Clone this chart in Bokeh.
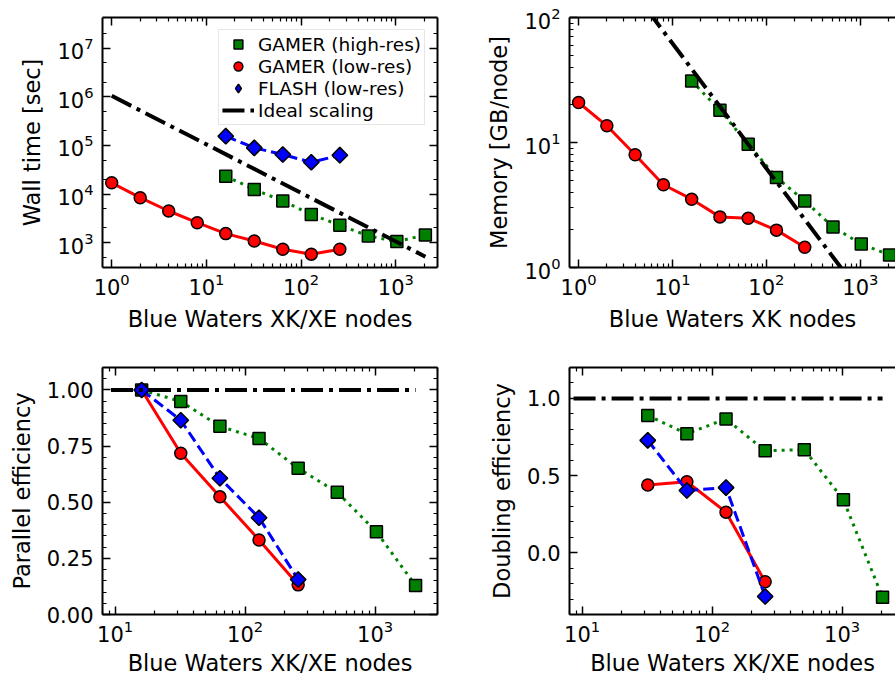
import numpy as np
from bokeh.plotting import figure
from bokeh.layouts import column, row
from bokeh.models import (LogAxis, LinearAxis, FixedTicker, CustomJSTickFormatter,
                          PrintfTickFormatter, Legend, LegendItem, Range1d)
from bokeh.embed import file_html
from bokeh.resources import INLINE

FONT = "DejaVu Sans"

# ---------------- data ----------------
nodes_hi = [16, 32, 64, 128, 256, 512, 1024, 2048]
nodes_lo = [1, 2, 4, 8, 16, 32, 64, 128, 256]
nodes_flash = [16, 32, 64, 128, 256]

wall_hi = [2.33e4, 1.24e4, 7.2e3, 3.8e3, 2.27e3, 1.37e3, 1.05e3, 1.44e3]
wall_lo = [1.70e4, 8.4e3, 4.47e3, 2.57e3, 1.53e3, 1.08e3, 731, 578, 731]
wall_flash = [1.55e5, 8.9e4, 6.5e4, 4.5e4, 6.3e4]
wall_ideal_x = [1, 2048]
wall_ideal_y = [1.05e6, 513]

mem_lo = [20.9, 13.6, 7.97, 4.59, 3.52, 2.54, 2.48, 1.99, 1.45]
mem_hi = [31.1, 18.1, 9.7, 5.25, 3.41, 2.11, 1.54, 1.26]
mem_ideal_x = [1, 2048]
mem_ideal_y = [620, 0.303]

par_nodes_hi = [16, 32, 64, 128, 256, 512, 1024, 2048]
par_hi = [1.0, 0.949, 0.838, 0.784, 0.651, 0.544, 0.368, 0.129]
par_nodes_lo = [16, 32, 64, 128, 256]
par_lo = [1.0, 0.718, 0.524, 0.332, 0.132]
par_flash = [1.0, 0.865, 0.607, 0.431, 0.156]
par_ideal_x = [9.3, 2048]
par_ideal_y = [1.0, 1.0]

dbl_nodes_hi = [32, 64, 128, 256, 512, 1024, 2048]
dbl_hi = [0.889, 0.771, 0.867, 0.660, 0.668, 0.343, -0.289]
dbl_nodes_lo = [32, 64, 128, 256]
dbl_lo = [0.439, 0.460, 0.263, -0.188]
dbl_flash = [0.728, 0.403, 0.422, -0.283]
dbl_ideal_x = [8.6, 2048]
dbl_ideal_y = [1.0, 1.0]

labels = ["GAMER (high-res)", "GAMER (low-res)", "FLASH (low-res)", "Ideal scaling"]

x_ticks_top = [1, 10, 100, 1000]
x_ticks_bot = [10, 100, 1000]
x_minor = [m * 10.0 ** k for k in range(0, 4) for m in range(2, 10)]
wall_ticks = [1e3, 1e4, 1e5, 1e6, 1e7]
wall_minor = [m * 10.0 ** k for k in range(2, 8) for m in (2, 5)]
mem_ticks = [1, 10, 100]
mem_minor = [m * 10.0 ** k for k in range(0, 2) for m in range(2, 10)]
par_ticks = [0.0, 0.25, 0.5, 0.75, 1.0]
par_minor = [i * 0.05 for i in range(0, 23)]
dbl_ticks = [0.0, 0.5, 1.0]
dbl_minor = [-0.4 + i * 0.1 for i in range(0, 17)]

GREEN, RED, BLUE = "#008000", "#ff0000", "#0000ff"


def style_axis(ax, show_labels=True):
    ax.major_tick_in = 8
    ax.major_tick_out = 0
    ax.minor_tick_in = 4
    ax.minor_tick_out = 0
    ax.major_tick_line_width = 1.5
    ax.minor_tick_line_width = 1.2
    ax.major_tick_line_color = "black"
    ax.minor_tick_line_color = "black"
    ax.axis_line_width = 2
    ax.axis_line_color = "black"
    ax.major_label_text_font = FONT
    ax.major_label_text_color = "black"
    ax.axis_label_text_font = FONT
    ax.axis_label_text_font_size = "22.5px"
    ax.axis_label_text_font_style = "normal"
    ax.axis_label_text_color = "black"
    if show_labels:
        ax.major_label_text_font_size = "21px"
    else:
        ax.major_label_text_font_size = "0px"
        ax.major_label_standoff = 0


def make_fig(w, h, xr, yr, ylog, xt, xm, yt, ym, yfmt, borders, right_axis,
             xlabel, ylabel, xl_standoff):
    p = figure(width=w, height=h, x_axis_type="log",
               y_axis_type="log" if ylog else "linear",
               x_range=Range1d(*xr), y_range=Range1d(*yr),
               output_backend="svg", toolbar_location=None,
               min_border_left=borders[0], min_border_right=borders[1],
               min_border_top=borders[2], min_border_bottom=borders[3])
    p.grid.visible = False
    p.outline_line_color = None
    p.background_fill_color = "white"
    p.border_fill_color = "white"

    xa = p.xaxis[0]
    xa.ticker = FixedTicker(ticks=xt, minor_ticks=xm)
    style_axis(xa)
    xa.major_label_standoff = 5
    xa.axis_label = xlabel
    xa.axis_label_standoff = xl_standoff

    ya = p.yaxis[0]
    ya.ticker = FixedTicker(ticks=yt, minor_ticks=ym)
    if yfmt is not None:
        ya.formatter = PrintfTickFormatter(format=yfmt)
    style_axis(ya)
    ya.major_label_standoff = 9
    ya.axis_label = ylabel
    ya.axis_label_standoff = 9

    top = LogAxis(ticker=FixedTicker(ticks=xt, minor_ticks=xm),
                  formatter=CustomJSTickFormatter(code="return ''"))
    style_axis(top, False)
    p.add_layout(top, "above")
    if right_axis:
        AxisCls = LogAxis if ylog else LinearAxis
        ra = AxisCls(ticker=FixedTicker(ticks=yt, minor_ticks=ym),
                     formatter=CustomJSTickFormatter(code="return ''"))
        style_axis(ra, False)
        p.add_layout(ra, "right")
    return p


def add_series(p, x, y, color, marker, dash, size, angle=0.0, key_marker=None):
    if dash == "solid":
        p.line(x, y, line_color=color, line_width=3)
    else:
        p.line(x, y, line_color=color, line_width=3, line_dash=dash)
    key = None
    if key_marker is not None:
        # legend key glyph, hidden underneath the real markers
        key = p.scatter(x, y, marker=key_marker, size=size, fill_color=color,
                        line_color="black", line_width=1.5)
    r = p.scatter(x, y, marker=marker, size=size, angle=angle,
                  fill_color=color, line_color="black", line_width=1.5)
    return key if key is not None else r


def add_ideal(p, x, y):
    return p.line(x, y, line_color="black", line_width=4, line_dash="22 6 4 6")


# ---------------- top-left: wall time ----------------
p1 = make_fig(470, 340, (0.8, 2750), (307, 4.3e7), True,
              x_ticks_top, x_minor, wall_ticks, wall_minor, None,
              (102, 33, 16, 73), True, "Blue Waters XK/XE nodes", "Wall time [sec]", 8)
s_hi = add_series(p1, nodes_hi, wall_hi, GREEN, "square", "3 5", 12)
s_lo = add_series(p1, nodes_lo, wall_lo, RED, "circle", "solid", 12)
s_fl = add_series(p1, nodes_flash, wall_flash, BLUE, "square", "11 5", 11, np.pi / 4,
                  key_marker="diamond")
l_id = add_ideal(p1, wall_ideal_x, wall_ideal_y)

legend = Legend(items=[LegendItem(label=labels[0], renderers=[s_hi]),
                       LegendItem(label=labels[1], renderers=[s_lo]),
                       LegendItem(label=labels[2], renderers=[s_fl]),
                       LegendItem(label=labels[3], renderers=[l_id])],
                location="top_right", margin=12, padding=3, spacing=0,
                glyph_height=22, glyph_width=32, label_height=20, label_standoff=4,
                label_text_font=FONT, label_text_font_size="18.5px",
                label_text_color="black",
                border_line_color="#cccccc", border_line_width=1.5,
                background_fill_alpha=0.8)
p1.add_layout(legend)

# ---------------- top-right: memory ----------------
p2 = make_fig(425, 340, (0.8, 2370), (1, 100), True,
              x_ticks_top, x_minor, mem_ticks, mem_minor, None,
              (99, 0, 17, 73), False, "Blue Waters XK nodes", "Memory [GB/node]", 8)
add_series(p2, nodes_hi, mem_hi, GREEN, "square", "3 5", 12)
add_series(p2, nodes_lo, mem_lo, RED, "circle", "solid", 12)
add_ideal(p2, mem_ideal_x, mem_ideal_y)

# ---------------- bottom-left: parallel efficiency ----------------
p3 = make_fig(470, 338, (8, 3020), (0, 1.1), False,
              x_ticks_bot, x_minor, par_ticks, par_minor, "%.2f",
              (102, 33, 26, 64), True, "Blue Waters XK/XE nodes", "Parallel efficiency", 5)
add_series(p3, par_nodes_hi, par_hi, GREEN, "square", "3 5", 12)
add_series(p3, par_nodes_lo, par_lo, RED, "circle", "solid", 12)
add_series(p3, par_nodes_lo, par_flash, BLUE, "square", "11 5", 11, np.pi / 4)
add_ideal(p3, par_ideal_x, par_ideal_y)

# ---------------- bottom-right: doubling efficiency ----------------
p4 = make_fig(425, 338, (8, 2576), (-0.4, 1.2), False,
              x_ticks_bot, x_minor, dbl_ticks, dbl_minor, "%.1f",
              (99, 0, 27, 64), False, "Blue Waters XK/XE nodes", "Doubling efficiency", 5)
add_series(p4, dbl_nodes_hi, dbl_hi, GREEN, "square", "3 5", 12)
add_series(p4, dbl_nodes_lo, dbl_lo, RED, "circle", "solid", 12)
add_series(p4, dbl_nodes_lo, dbl_flash, BLUE, "square", "11 5", 11, np.pi / 4)
add_ideal(p4, dbl_ideal_x, dbl_ideal_y)

layout = column(row(p1, p2), row(p3, p4))
open("out.html", "w").write(file_html(layout, INLINE))
